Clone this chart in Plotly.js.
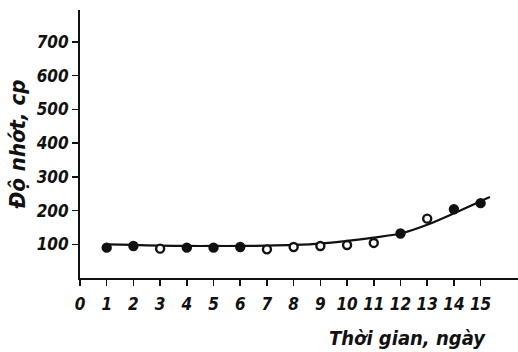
<!DOCTYPE html>
<html>
<head>
<meta charset="utf-8">
<script src="https://cdn.plot.ly/plotly-3.0.1.min.js"></script>
<style>html,body{margin:0;padding:0;background:#fff;}#chart{width:518px;height:352px;}</style>
</head>
<body>
<div id="chart"></div>
<script>
// Measured viscosity (cP) per day
const days = [1,2,3,4,5,6,7,8,9,10,11,12,13,14,15];
const viscosity = [90,95,87,90,90,92,85,92,95,98,104,132,176,204,222];
// Marker kind per point: true = filled dot, false = open circle
const filledPoint = [true,true,false,true,true,true,false,false,false,false,false,true,false,true,true];
// Hand-drawn trend curve
const trendDays = [1,2,3,4,5,6,7,8,9,10,11,12,13,14,15,15.35];
const trendVisc = [100,98,96,95,95,95,96,98,102,110,120,132,158,192,228,240];
// Axis tick labels
const xTicks = [0,1,2,3,4,5,6,7,8,9,10,11,12,13,14,15];
const yTicks = [100,200,300,400,500,600,700];

const hand = {family: "'DejaVu Sans Condensed', 'DejaVu Sans', sans-serif", style: 'italic', weight: 'bold', color: '#111'};

const traces = [
  {
    x: trendDays, y: trendVisc, mode: 'lines', type: 'scatter',
    line: {color: '#111', width: 2.2, shape: 'spline', smoothing: 0.8},
    hoverinfo: 'skip', showlegend: false
  },
  {
    x: days, y: viscosity, mode: 'markers', type: 'scatter',
    marker: {
      size: 8,
      color: filledPoint.map(f => f ? '#111' : '#fff'),
      line: {color: '#111', width: 2.4}
    },
    showlegend: false
  }
];

const layout = {
  width: 518, height: 352,
  margin: {l: 80, r: 0, t: 10, b: 74},
  paper_bgcolor: '#fff', plot_bgcolor: '#fff',
  showlegend: false,
  xaxis: {
    range: [0, 16.4], showgrid: false, zeroline: false,
    showline: true, linecolor: '#111', linewidth: 2,
    tickmode: 'array', tickvals: xTicks, ticktext: xTicks.map(String),
    ticks: 'outside', ticklen: 6, tickwidth: 1.5, tickcolor: '#111',
    ticklabelstandoff: 4,
    tickfont: Object.assign({size: 17}, hand)
  },
  yaxis: {
    range: [0, 795], showgrid: false, zeroline: false,
    showline: true, linecolor: '#111', linewidth: 2,
    tickmode: 'array', tickvals: yTicks, ticktext: yTicks.map(String),
    ticks: 'outside', ticklen: 6, tickwidth: 1.5, tickcolor: '#111',
    ticklabelstandoff: 0,
    tickfont: Object.assign({size: 17}, hand),
    title: {text: 'Độ nhớt, cp', font: Object.assign({size: 22}, hand), standoff: 4}
  },
  annotations: [
    {
      text: 'Thời gian, ngày', xref: 'paper', yref: 'paper',
      x: (407 - 80) / 438, y: (278 - 338) / 268,
      xanchor: 'center', yanchor: 'middle', showarrow: false,
      font: Object.assign({size: 20}, hand)
    }
  ]
};

Plotly.newPlot('chart', traces, layout, {displayModeBar: false, staticPlot: true});
</script>
</body>
</html>
